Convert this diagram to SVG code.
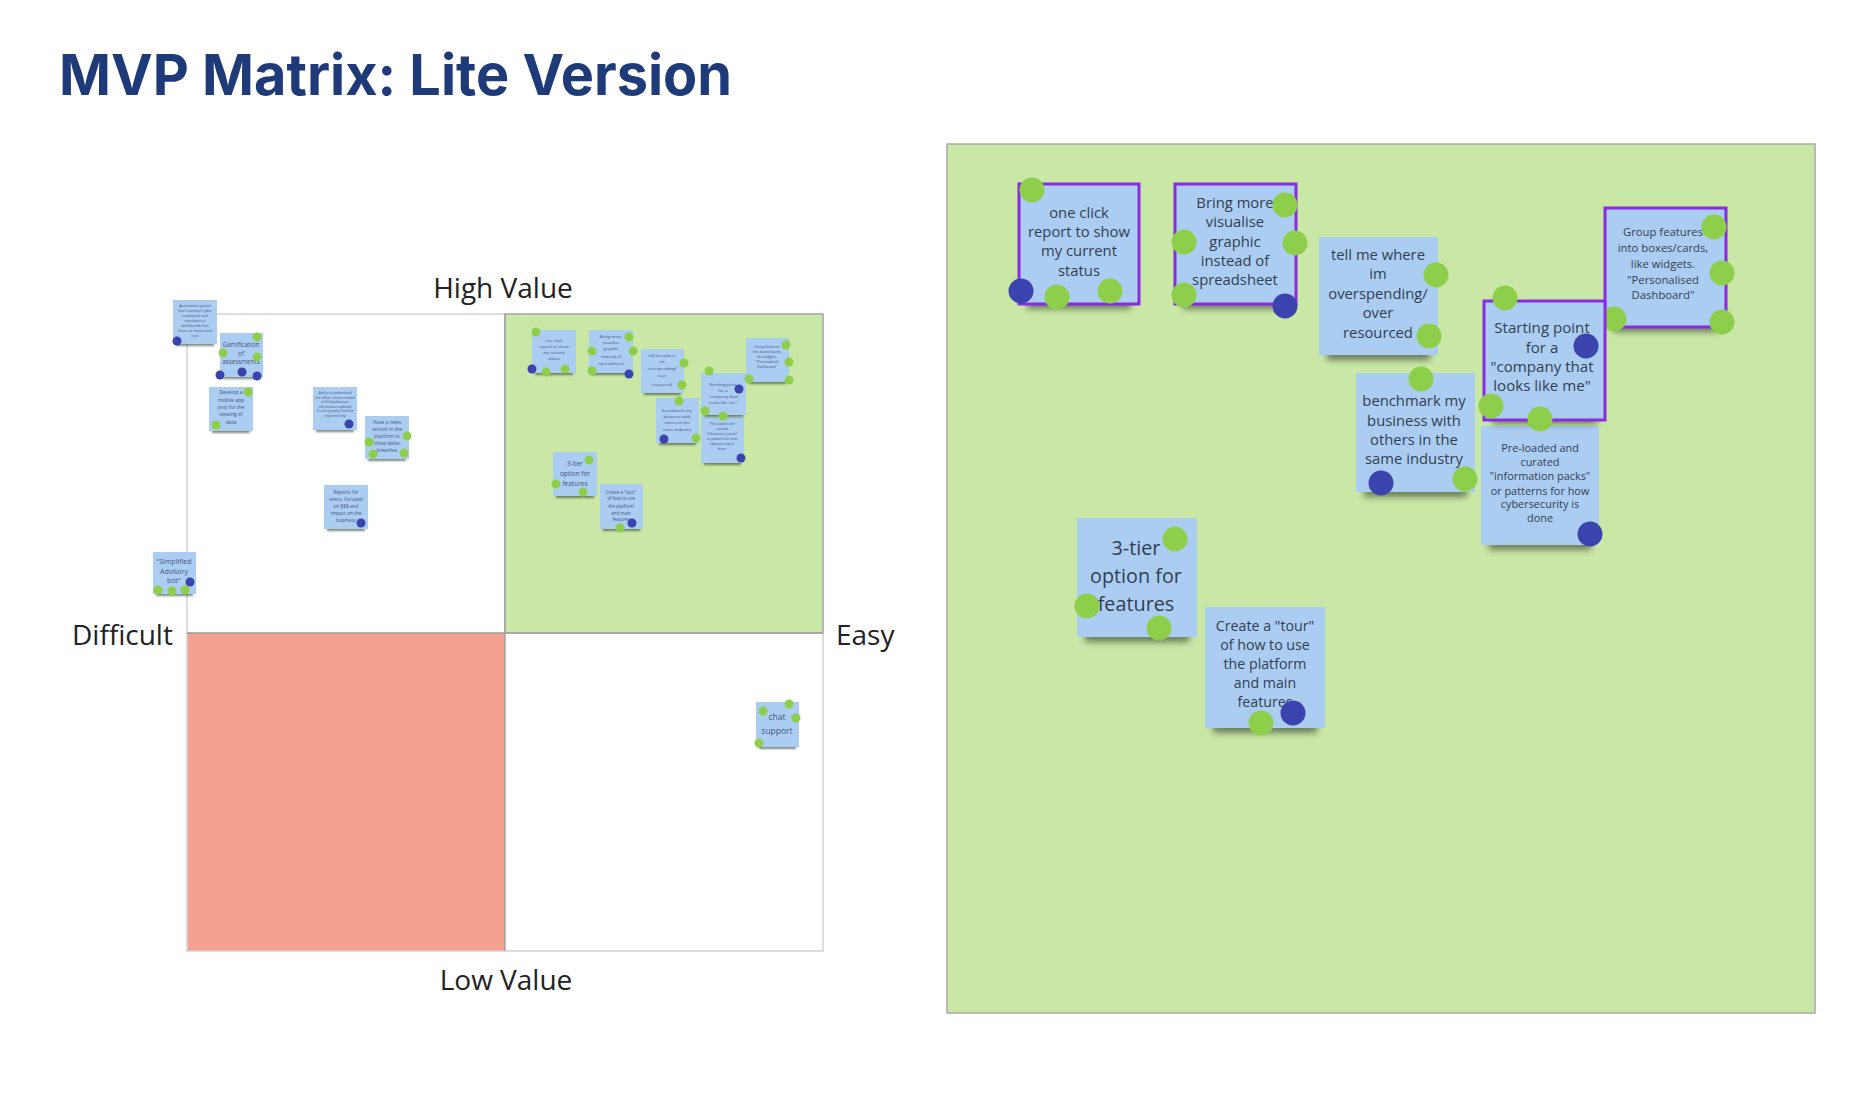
<svg xmlns="http://www.w3.org/2000/svg" width="1860" height="1112" viewBox="0 0 1860 1112">
<style>
.title{font-family:Inter,"DejaVu Sans",sans-serif;font-weight:700;fill:#1f3a78}
.lbl{font-family:"Open Sans","Noto Sans",sans-serif;font-size:28px;fill:#222}
.note{fill:#abcdf2}
.sel{fill:none;stroke:#8a2be2;stroke-width:3}
.t{font-family:"Open Sans","Noto Sans",sans-serif;fill:#343d50;text-anchor:middle}
.ts{font-family:"Open Sans","Noto Sans",sans-serif;fill:#45557a;text-anchor:middle}
.sh{fill:#2f3a2b;opacity:0.6}
.g{fill:#8dcf4b}
.b{fill:#3b44ae}
</style>
<defs>
<filter id="bl" x="-30%" y="-100%" width="160%" height="300%"><feGaussianBlur stdDeviation="3"/></filter>
<filter id="bls" x="-30%" y="-100%" width="160%" height="300%"><feGaussianBlur stdDeviation="1.2"/></filter>
</defs>
<rect width="1860" height="1112" fill="#ffffff"/>
<text class="title" x="59" y="95" font-size="57" textLength="673" lengthAdjust="spacingAndGlyphs">MVP Matrix: Lite Version</text>

<g id="matrix">
<rect x="505" y="314" width="318" height="319" fill="#c9e7a5"/>
<rect x="187" y="633" width="318" height="318" fill="#f4a190"/>
<path d="M187 314H823V951H187Z" fill="none" stroke="#d4d4d4" stroke-width="1.5"/>
<path d="M505 314V951M187 633H823" stroke="#9a9a9a" stroke-width="1.3" fill="none"/>
<rect x="505" y="314" width="318" height="319" fill="none" stroke="#a3a3a3" stroke-width="1.3"/>
<text class="lbl" x="503" y="298" text-anchor="middle">High Value</text>
<text class="lbl" x="506" y="990" text-anchor="middle">Low Value</text>
<text class="lbl" x="72" y="645">Difficult</text>
<text class="lbl" x="836" y="645">Easy</text>
</g>

<g id="mini-automated">
<rect class="sh" x="176" y="341" width="38" height="5" filter="url(#bls)"/>
<rect class="note" x="173" y="300" width="44" height="44"/>
<text class="ts" font-size="3.6"><tspan x="195" y="307">Automated system</tspan><tspan x="195" y="312">that (overlays) cyber</tspan><tspan x="195" y="317">complaints and</tspan><tspan x="195" y="322">translates to</tspan><tspan x="195" y="327">dashboards that</tspan><tspan x="195" y="332">focus on impact and</tspan><tspan x="195" y="337">cost</tspan></text>
<circle class="b" cx="177" cy="341" r="4.5"/>
</g>
<g id="mini-gamification">
<rect class="sh" x="223" y="374" width="38" height="5" filter="url(#bls)"/>
<rect class="note" x="220" y="333" width="43" height="44"/>
<text class="ts" font-size="6.3"><tspan x="241" y="347">Gamification</tspan><tspan x="241" y="356">of</tspan><tspan x="241" y="364">assessments</tspan></text>
<circle class="g" cx="257" cy="337" r="4.5"/><circle class="g" cx="223" cy="353" r="4.5"/><circle class="g" cx="257" cy="357" r="4.5"/>
<circle class="b" cx="220" cy="375" r="4.5"/><circle class="b" cx="242" cy="372" r="4.5"/><circle class="b" cx="257" cy="376" r="4.5"/>
</g>
<g id="mini-mobile">
<rect class="sh" x="212" y="428" width="38" height="5" filter="url(#bls)"/>
<rect class="note" x="209" y="387" width="44" height="44"/>
<text class="ts" font-size="5"><tspan x="231" y="394">Develop a</tspan><tspan x="231" y="402">mobile app</tspan><tspan x="231" y="409">only for the</tspan><tspan x="231" y="416">viewing of</tspan><tspan x="231" y="424">data</tspan></text>
<circle class="g" cx="248" cy="392" r="4.5"/><circle class="g" cx="216" cy="425" r="4.5"/>
</g>
<g id="mini-ability">
<rect class="sh" x="316" y="427" width="38" height="5" filter="url(#bls)"/>
<rect class="note" x="313" y="387" width="44" height="43"/>
<text class="ts" font-size="3.4"><tspan x="335" y="394">Ability to understand</tspan><tspan x="335" y="398.5">the effort / value needed</tspan><tspan x="335" y="403">to fill weaknesses</tspan><tspan x="335" y="407.5">information updated</tspan><tspan x="335" y="412">if costs greatly, find the</tspan><tspan x="335" y="416.5">required help</tspan></text>
<circle class="b" cx="349" cy="424" r="4.5"/>
</g>
<g id="mini-news">
<rect class="sh" x="368" y="456" width="38" height="5" filter="url(#bls)"/>
<rect class="note" x="365" y="416" width="44" height="43"/>
<text class="ts" font-size="4.8"><tspan x="387" y="424">Have a news</tspan><tspan x="387" y="431">section in the</tspan><tspan x="387" y="438">platform to</tspan><tspan x="387" y="445">show latest</tspan><tspan x="387" y="452">breaches</tspan></text>
<circle class="g" cx="407" cy="436" r="4.5"/><circle class="g" cx="369" cy="442" r="4.5"/><circle class="g" cx="373" cy="454" r="4.5"/><circle class="g" cx="404" cy="453" r="4.5"/>
</g>
<g id="mini-reports">
<rect class="sh" x="327" y="526" width="38" height="5" filter="url(#bls)"/>
<rect class="note" x="324" y="485" width="44" height="44"/>
<text class="ts" font-size="4.8"><tspan x="346" y="494">Reports for</tspan><tspan x="346" y="501">execs. Focused</tspan><tspan x="346" y="508">on $$$ and</tspan><tspan x="346" y="515">impact on the</tspan><tspan x="346" y="522">business</tspan></text>
<circle class="b" cx="361" cy="523" r="4.5"/>
</g>
<g id="mini-advisory">
<rect class="sh" x="156" y="591" width="37" height="5" filter="url(#bls)"/>
<rect class="note" x="153" y="552" width="43" height="42"/>
<text class="ts" font-size="7"><tspan x="174" y="564">"Simplified</tspan><tspan x="174" y="574">Advisory</tspan><tspan x="174" y="583">bot"</tspan></text>
<circle class="b" cx="190" cy="582" r="4.5"/>
<circle class="g" cx="158" cy="590" r="4.5"/><circle class="g" cx="172" cy="591" r="4.5"/><circle class="g" cx="185" cy="590" r="4.5"/>
</g>

<g id="mini-oneclick">
<rect class="sh" x="535" y="370" width="38" height="5" filter="url(#bls)"/>
<rect class="note" x="532" y="330" width="44" height="43"/>
<text class="ts" font-size="4.3"><tspan x="554" y="342">one click</tspan><tspan x="554" y="348">report to show</tspan><tspan x="554" y="354">my current</tspan><tspan x="554" y="360">status</tspan></text>
<circle class="g" cx="536" cy="332" r="4.5"/><circle class="b" cx="532" cy="369" r="4.5"/><circle class="g" cx="546" cy="372" r="4.5"/><circle class="g" cx="565" cy="369" r="4.5"/>
</g>
<g id="mini-bring">
<rect class="sh" x="592" y="370" width="38" height="5" filter="url(#bls)"/>
<rect class="note" x="589" y="330" width="44" height="43"/>
<text class="ts" font-size="4.3"><tspan x="611" y="338">Bring more</tspan><tspan x="611" y="344">visualise</tspan><tspan x="611" y="350">graphic</tspan><tspan x="611" y="358">instead of</tspan><tspan x="611" y="365">spreadsheet</tspan></text>
<circle class="g" cx="629" cy="337" r="4.5"/><circle class="g" cx="592" cy="351" r="4.5"/><circle class="g" cx="633" cy="351" r="4.5"/><circle class="g" cx="592" cy="371" r="4.5"/><circle class="b" cx="629" cy="374" r="4.5"/>
</g>
<g id="mini-tellme">
<rect class="sh" x="644" y="390" width="37" height="5" filter="url(#bls)"/>
<rect class="note" x="641" y="349" width="43" height="44"/>
<text class="ts" font-size="4.3"><tspan x="662" y="357">tell me where</tspan><tspan x="662" y="363">im</tspan><tspan x="662" y="370">overspending/</tspan><tspan x="662" y="377">over</tspan><tspan x="662" y="386">resourced</tspan></text>
<circle class="g" cx="684" cy="363" r="4.5"/><circle class="g" cx="682" cy="385" r="4.5"/>
</g>
<g id="mini-preloaded">
<rect class="sh" x="704" y="460" width="37" height="5" filter="url(#bls)"/>
<rect class="note" x="701" y="417" width="43" height="46"/>
<text class="ts" font-size="3.4"><tspan x="722" y="425">Pre-loaded and</tspan><tspan x="722" y="430">curated</tspan><tspan x="722" y="435">"information packs"</tspan><tspan x="722" y="440">or patterns for how</tspan><tspan x="722" y="445">cybersecurity is</tspan><tspan x="722" y="450">done</tspan></text>
<circle class="b" cx="741" cy="458" r="4.5"/>
</g>
<g id="mini-starting">
<rect class="sh" x="704" y="412" width="39" height="5" filter="url(#bls)"/>
<rect class="note" x="701" y="373" width="45" height="42"/>
<text class="ts" font-size="4.3"><tspan x="723" y="386">Starting point</tspan><tspan x="723" y="392">for a</tspan><tspan x="723" y="398">"company that</tspan><tspan x="723" y="404">looks like me"</tspan></text>
<circle class="g" cx="709" cy="371" r="4.5"/><circle class="b" cx="739" cy="389" r="4.5"/><circle class="g" cx="705" cy="411" r="4.5"/><circle class="g" cx="723" cy="416" r="4.5"/>
</g>
<g id="mini-group">
<rect class="sh" x="749" y="379" width="37" height="5" filter="url(#bls)"/>
<rect class="note" x="746" y="338" width="43" height="44"/>
<text class="ts" font-size="3.6"><tspan x="767" y="348">Group features</tspan><tspan x="767" y="353">into boxes/cards,</tspan><tspan x="767" y="358">like widgets.</tspan><tspan x="767" y="363">"Personalised</tspan><tspan x="767" y="368">Dashboard"</tspan></text>
<circle class="g" cx="786" cy="345" r="4.5"/><circle class="g" cx="789" cy="362" r="4.5"/><circle class="g" cx="749" cy="379" r="4.5"/><circle class="g" cx="789" cy="380" r="4.5"/>
</g>
<g id="mini-benchmark">
<rect class="sh" x="659" y="440" width="37" height="5" filter="url(#bls)"/>
<rect class="note" x="656" y="398" width="43" height="45"/>
<text class="ts" font-size="4.3"><tspan x="677" y="412">benchmark my</tspan><tspan x="677" y="418">business with</tspan><tspan x="677" y="424">others in the</tspan><tspan x="677" y="431">same industry</tspan></text>
<circle class="g" cx="679" cy="401" r="4.5"/><circle class="b" cx="664" cy="439" r="4.5"/><circle class="g" cx="696" cy="438" r="4.5"/>
</g>
<g id="mini-3tier">
<rect class="sh" x="556" y="493" width="38" height="5" filter="url(#bls)"/>
<rect class="note" x="553" y="452" width="44" height="44"/>
<text class="ts" font-size="6.5"><tspan x="575" y="466">3-tier</tspan><tspan x="575" y="476">option for</tspan><tspan x="575" y="486">features</tspan></text>
<circle class="g" cx="589" cy="460" r="4.5"/><circle class="g" cx="556" cy="484" r="4.5"/><circle class="g" cx="583" cy="492" r="4.5"/>
</g>
<g id="mini-tour">
<rect class="sh" x="603" y="526" width="37" height="5" filter="url(#bls)"/>
<rect class="note" x="600" y="484" width="43" height="45"/>
<text class="ts" font-size="4.4"><tspan x="621" y="494">Create a "tour"</tspan><tspan x="621" y="500">of how to use</tspan><tspan x="621" y="508">the platform</tspan><tspan x="621" y="515">and main</tspan><tspan x="621" y="521">features</tspan></text>
<circle class="g" cx="620" cy="528" r="4.5"/><circle class="b" cx="632" cy="523" r="4.5"/>
</g>
<g id="mini-chat">
<rect class="sh" x="759" y="744" width="37" height="5" filter="url(#bls)"/>
<rect class="note" x="756" y="702" width="43" height="45"/>
<text class="ts" font-size="8.5" fill="#2b3447"><tspan x="777" y="720">chat</tspan><tspan x="777" y="734">support</tspan></text>
<circle class="g" cx="763" cy="711" r="4.5"/><circle class="g" cx="789" cy="704" r="4.5"/><circle class="g" cx="796" cy="718" r="4.5"/><circle class="g" cx="759" cy="743" r="4.5"/>
</g>

<g id="panel">
<rect x="947" y="144" width="868" height="869" fill="#c9e7a5" stroke="#a9a9a9" stroke-width="1.5"/>
</g>

<g id="note-oneclick">
<rect class="sh" x="1027" y="298" width="104" height="11" filter="url(#bl)"/>
<rect class="note" x="1019" y="184" width="120" height="120"/>
<rect class="sel" x="1019" y="184" width="120" height="120"/>
<text class="t" font-size="14.8"><tspan x="1079" y="217.5">one click</tspan><tspan x="1079" y="236.5">report to show</tspan><tspan x="1079" y="255.5">my current</tspan><tspan x="1079" y="275.5">status</tspan></text>
<circle class="g" cx="1032" cy="190" r="12.5"/><circle class="b" cx="1021" cy="291" r="12.5"/><circle class="g" cx="1057" cy="297" r="12.5"/><circle class="g" cx="1110" cy="291" r="12.5"/>
</g>
<g id="note-bring">
<rect class="sh" x="1183" y="298" width="104" height="11" filter="url(#bl)"/>
<rect class="note" x="1175" y="184" width="121" height="120"/>
<rect class="sel" x="1175" y="184" width="121" height="120"/>
<text class="t" font-size="14.8"><tspan x="1235" y="207.5">Bring more</tspan><tspan x="1235" y="227">visualise</tspan><tspan x="1235" y="247">graphic</tspan><tspan x="1235" y="266">instead of</tspan><tspan x="1235" y="285">spreadsheet</tspan></text>
<circle class="g" cx="1285" cy="205" r="12.5"/><circle class="g" cx="1184" cy="242" r="12.5"/><circle class="g" cx="1295" cy="243" r="12.5"/><circle class="g" cx="1184" cy="295" r="12.5"/><circle class="b" cx="1285" cy="306" r="12.5"/>
</g>
<g id="note-tellme">
<rect class="sh" x="1327" y="349" width="103" height="11" filter="url(#bl)"/>
<rect class="note" x="1319" y="237" width="119" height="118"/>
<text class="t" font-size="14.8"><tspan x="1378" y="259.5">tell me where</tspan><tspan x="1378" y="279">im</tspan><tspan x="1378" y="298.5">overspending/</tspan><tspan x="1378" y="318">over</tspan><tspan x="1378" y="337.5">resourced</tspan></text>
<circle class="g" cx="1436" cy="275" r="12.5"/><circle class="g" cx="1429" cy="336" r="12.5"/>
</g>
<g id="note-group">
<rect class="sh" x="1613" y="321" width="105" height="11" filter="url(#bl)"/>
<rect class="note" x="1605" y="208" width="121" height="119"/>
<rect class="sel" x="1605" y="208" width="121" height="119"/>
<text class="t" font-size="11.3"><tspan x="1663" y="236">Group features</tspan><tspan x="1663" y="251.5">into boxes/cards,</tspan><tspan x="1663" y="268">like widgets.</tspan><tspan x="1663" y="283.5">"Personalised</tspan><tspan x="1663" y="299">Dashboard"</tspan></text>
<circle class="g" cx="1714" cy="227" r="12.5"/><circle class="g" cx="1722" cy="273" r="12.5"/><circle class="g" cx="1614" cy="319" r="12.5"/><circle class="g" cx="1722" cy="322" r="12.5"/>
</g>
<g id="note-benchmark">
<rect class="sh" x="1364" y="486" width="103" height="11" filter="url(#bl)"/>
<rect class="note" x="1356" y="373" width="119" height="119"/>
<text class="t" font-size="14.8"><tspan x="1414" y="405.5">benchmark my</tspan><tspan x="1414" y="425.5">business with</tspan><tspan x="1414" y="444.5">others in the</tspan><tspan x="1414" y="463.5">same industry</tspan></text>
<circle class="g" cx="1421" cy="379" r="12.5"/><circle class="b" cx="1381" cy="483" r="12.5"/><circle class="g" cx="1465" cy="479" r="12.5"/>
</g>
<g id="note-preloaded">
<rect class="sh" x="1489" y="539" width="102" height="11" filter="url(#bl)"/>
<rect class="note" x="1481" y="426" width="118" height="119"/>
<text class="t" font-size="10.9"><tspan x="1540" y="452">Pre-loaded and</tspan><tspan x="1540" y="466">curated</tspan><tspan x="1540" y="480">"information packs"</tspan><tspan x="1540" y="495">or patterns for how</tspan><tspan x="1540" y="508">cybersecurity is</tspan><tspan x="1540" y="522">done</tspan></text>
<circle class="b" cx="1590" cy="534" r="12.5"/>
</g>
<g id="note-starting">
<rect class="sh" x="1492" y="413" width="105" height="11" filter="url(#bl)"/>
<rect class="note" x="1484" y="301" width="121" height="119"/>
<rect class="sel" x="1484" y="301" width="121" height="119"/>
<text class="t" font-size="15.1"><tspan x="1542" y="333">Starting point</tspan><tspan x="1542" y="352.5">for a</tspan><tspan x="1542" y="372">"company that</tspan><tspan x="1542" y="391">looks like me"</tspan></text>
<circle class="g" cx="1505" cy="298" r="12.5"/><circle class="b" cx="1586" cy="346" r="12.5"/><circle class="g" cx="1491" cy="406" r="12.5"/><circle class="g" cx="1540" cy="419" r="12.5"/>
</g>
<g id="note-3tier">
<rect class="sh" x="1085" y="631" width="104" height="11" filter="url(#bl)"/>
<rect class="note" x="1077" y="518" width="120" height="119"/>
<text class="t" font-size="19.8"><tspan x="1136" y="554.5">3-tier</tspan><tspan x="1136" y="582.5">option for</tspan><tspan x="1136" y="610.5">features</tspan></text>
<circle class="g" cx="1175" cy="539" r="12.5"/><circle class="g" cx="1087" cy="606" r="12.5"/><circle class="g" cx="1159" cy="628" r="12.5"/>
</g>
<g id="note-tour">
<rect class="sh" x="1213" y="722" width="104" height="11" filter="url(#bl)"/>
<rect class="note" x="1205" y="607" width="120" height="121"/>
<text class="t" font-size="14.2"><tspan x="1265" y="631">Create a "tour"</tspan><tspan x="1265" y="650">of how to use</tspan><tspan x="1265" y="669">the platform</tspan><tspan x="1265" y="688">and main</tspan><tspan x="1265" y="707">features</tspan></text>
<circle class="g" cx="1261" cy="723" r="12.5"/><circle class="b" cx="1293" cy="713" r="12.5"/>
</g>
<g id="connectors"/>
</svg>
